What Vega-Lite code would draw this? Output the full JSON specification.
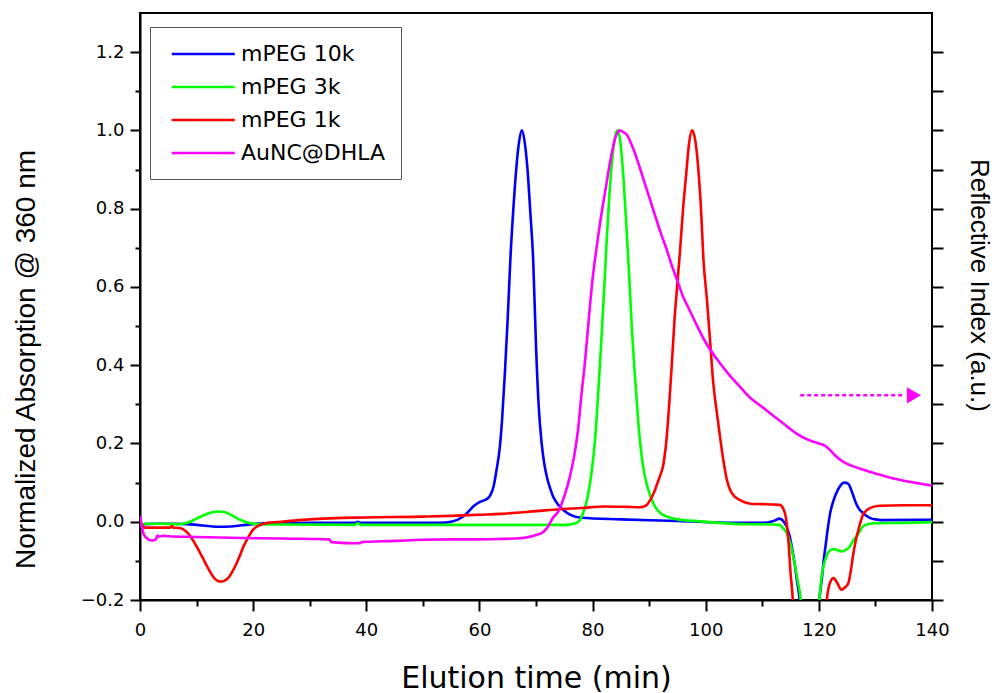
{
"$schema": "https://vega.github.io/schema/vega-lite/v6.json",
"width": 792, "height": 587,
"autosize": {"type": "none"},
"padding": {"left": 140, "top": 13, "right": 66, "bottom": 93},
"background": "white",
"config": {"view": {"stroke": "black", "strokeWidth": 2}, "axis": {"grid": false, "domainColor": "black", "tickColor": "black", "labelColor": "black", "titleColor": "black", "titleFontWeight": "normal"}},
"datasets": {
"curves": [
{"s":"mPEG 10k","t":0.3,"v":-0.012},{"s":"mPEG 10k","t":0.8,"v":-0.006},{"s":"mPEG 10k","t":3,"v":-0.005},{"s":"mPEG 10k","t":6,"v":-0.005},{"s":"mPEG 10k","t":8,"v":-0.006},{"s":"mPEG 10k","t":10,"v":-0.008},{"s":"mPEG 10k","t":12,"v":-0.011},{"s":"mPEG 10k","t":14,"v":-0.013},{"s":"mPEG 10k","t":16,"v":-0.012},{"s":"mPEG 10k","t":18,"v":-0.009},{"s":"mPEG 10k","t":20,"v":-0.006},{"s":"mPEG 10k","t":22,"v":-0.004},{"s":"mPEG 10k","t":30,"v":-0.003},{"s":"mPEG 10k","t":38,"v":-0.003},{"s":"mPEG 10k","t":38.5,"v":0.0},{"s":"mPEG 10k","t":39,"v":-0.003},{"s":"mPEG 10k","t":50,"v":-0.003},{"s":"mPEG 10k","t":53,"v":-0.003},{"s":"mPEG 10k","t":55,"v":0.0},{"s":"mPEG 10k","t":57,"v":0.012},{"s":"mPEG 10k","t":58,"v":0.025},{"s":"mPEG 10k","t":59,"v":0.04},{"s":"mPEG 10k","t":60,"v":0.05},{"s":"mPEG 10k","t":61,"v":0.056},{"s":"mPEG 10k","t":61.5,"v":0.06},{"s":"mPEG 10k","t":62,"v":0.07},{"s":"mPEG 10k","t":62.5,"v":0.09},{"s":"mPEG 10k","t":63,"v":0.13},{"s":"mPEG 10k","t":63.6,"v":0.19},{"s":"mPEG 10k","t":64,"v":0.26},{"s":"mPEG 10k","t":64.5,"v":0.38},{"s":"mPEG 10k","t":65,"v":0.52},{"s":"mPEG 10k","t":65.5,"v":0.68},{"s":"mPEG 10k","t":66,"v":0.8},{"s":"mPEG 10k","t":66.5,"v":0.9},{"s":"mPEG 10k","t":67,"v":0.97},{"s":"mPEG 10k","t":67.5,"v":1.0},{"s":"mPEG 10k","t":68,"v":0.97},{"s":"mPEG 10k","t":68.5,"v":0.9},{"s":"mPEG 10k","t":69,"v":0.79},{"s":"mPEG 10k","t":69.5,"v":0.67},{"s":"mPEG 10k","t":70,"v":0.45},{"s":"mPEG 10k","t":70.5,"v":0.29},{"s":"mPEG 10k","t":71,"v":0.2},{"s":"mPEG 10k","t":71.5,"v":0.145},{"s":"mPEG 10k","t":72,"v":0.11},{"s":"mPEG 10k","t":72.5,"v":0.085},{"s":"mPEG 10k","t":73,"v":0.065},{"s":"mPEG 10k","t":73.5,"v":0.052},{"s":"mPEG 10k","t":74,"v":0.042},{"s":"mPEG 10k","t":75,"v":0.028},{"s":"mPEG 10k","t":76,"v":0.018},{"s":"mPEG 10k","t":78,"v":0.01},{"s":"mPEG 10k","t":85,"v":0.006},{"s":"mPEG 10k","t":95,"v":0.002},{"s":"mPEG 10k","t":105,"v":-0.003},{"s":"mPEG 10k","t":110,"v":-0.003},{"s":"mPEG 10k","t":112,"v":0.002},{"s":"mPEG 10k","t":113.1,"v":0.008},{"s":"mPEG 10k","t":113.8,"v":0.0},{"s":"mPEG 10k","t":114.3,"v":-0.012},{"s":"mPEG 10k","t":114.8,"v":-0.035},{"s":"mPEG 10k","t":115.2,"v":-0.063},{"s":"mPEG 10k","t":115.7,"v":-0.105},{"s":"mPEG 10k","t":116.1,"v":-0.148},{"s":"mPEG 10k","t":116.6,"v":-0.2},{"s":"mPEG 10k","t":117.2,"v":-0.35},{"s":"mPEG 10k","t":118,"v":-0.5},{"s":"mPEG 10k","t":119.4,"v":-0.5},{"s":"mPEG 10k","t":120.1,"v":-0.2},{"s":"mPEG 10k","t":120.5,"v":-0.15},{"s":"mPEG 10k","t":120.8,"v":-0.106},{"s":"mPEG 10k","t":121.2,"v":-0.06},{"s":"mPEG 10k","t":121.6,"v":-0.015},{"s":"mPEG 10k","t":122,"v":0.022},{"s":"mPEG 10k","t":122.5,"v":0.05},{"s":"mPEG 10k","t":123,"v":0.07},{"s":"mPEG 10k","t":123.7,"v":0.09},{"s":"mPEG 10k","t":124.5,"v":0.1},{"s":"mPEG 10k","t":125.2,"v":0.097},{"s":"mPEG 10k","t":126,"v":0.07},{"s":"mPEG 10k","t":126.5,"v":0.05},{"s":"mPEG 10k","t":127,"v":0.035},{"s":"mPEG 10k","t":128,"v":0.02},{"s":"mPEG 10k","t":129,"v":0.01},{"s":"mPEG 10k","t":130,"v":0.006},{"s":"mPEG 10k","t":131,"v":0.004},{"s":"mPEG 10k","t":140,"v":0.005},
{"s":"mPEG 3k","t":0.3,"v":-0.015},{"s":"mPEG 3k","t":0.8,"v":-0.005},{"s":"mPEG 3k","t":3,"v":-0.005},{"s":"mPEG 3k","t":7,"v":-0.006},{"s":"mPEG 3k","t":8.5,"v":-0.002},{"s":"mPEG 3k","t":10,"v":0.008},{"s":"mPEG 3k","t":11.5,"v":0.018},{"s":"mPEG 3k","t":13,"v":0.025},{"s":"mPEG 3k","t":14,"v":0.026},{"s":"mPEG 3k","t":15,"v":0.024},{"s":"mPEG 3k","t":16,"v":0.018},{"s":"mPEG 3k","t":17,"v":0.01},{"s":"mPEG 3k","t":18,"v":0.003},{"s":"mPEG 3k","t":19,"v":-0.002},{"s":"mPEG 3k","t":20.5,"v":-0.006},{"s":"mPEG 3k","t":25,"v":-0.007},{"s":"mPEG 3k","t":38,"v":-0.008},{"s":"mPEG 3k","t":38.5,"v":-0.004},{"s":"mPEG 3k","t":39,"v":-0.008},{"s":"mPEG 3k","t":50,"v":-0.008},{"s":"mPEG 3k","t":60,"v":-0.008},{"s":"mPEG 3k","t":70,"v":-0.008},{"s":"mPEG 3k","t":75.4,"v":-0.008},{"s":"mPEG 3k","t":77,"v":-0.004},{"s":"mPEG 3k","t":77.8,"v":0.005},{"s":"mPEG 3k","t":78.5,"v":0.03},{"s":"mPEG 3k","t":79,"v":0.055},{"s":"mPEG 3k","t":79.5,"v":0.094},{"s":"mPEG 3k","t":80,"v":0.147},{"s":"mPEG 3k","t":80.5,"v":0.22},{"s":"mPEG 3k","t":81,"v":0.33},{"s":"mPEG 3k","t":81.5,"v":0.45},{"s":"mPEG 3k","t":82,"v":0.58},{"s":"mPEG 3k","t":82.5,"v":0.72},{"s":"mPEG 3k","t":83,"v":0.84},{"s":"mPEG 3k","t":83.5,"v":0.93},{"s":"mPEG 3k","t":84,"v":0.985},{"s":"mPEG 3k","t":84.4,"v":1.0},{"s":"mPEG 3k","t":85,"v":0.96},{"s":"mPEG 3k","t":85.5,"v":0.87},{"s":"mPEG 3k","t":86,"v":0.75},{"s":"mPEG 3k","t":86.5,"v":0.62},{"s":"mPEG 3k","t":87,"v":0.48},{"s":"mPEG 3k","t":87.5,"v":0.37},{"s":"mPEG 3k","t":88,"v":0.27},{"s":"mPEG 3k","t":88.5,"v":0.19},{"s":"mPEG 3k","t":89,"v":0.135},{"s":"mPEG 3k","t":89.5,"v":0.1},{"s":"mPEG 3k","t":90,"v":0.075},{"s":"mPEG 3k","t":90.5,"v":0.055},{"s":"mPEG 3k","t":91,"v":0.04},{"s":"mPEG 3k","t":92,"v":0.022},{"s":"mPEG 3k","t":93,"v":0.014},{"s":"mPEG 3k","t":95,"v":0.006},{"s":"mPEG 3k","t":99,"v":0.001},{"s":"mPEG 3k","t":106,"v":-0.006},{"s":"mPEG 3k","t":112,"v":-0.007},{"s":"mPEG 3k","t":113,"v":-0.008},{"s":"mPEG 3k","t":113.4,"v":-0.012},{"s":"mPEG 3k","t":114,"v":-0.022},{"s":"mPEG 3k","t":114.6,"v":-0.038},{"s":"mPEG 3k","t":115.2,"v":-0.07},{"s":"mPEG 3k","t":115.8,"v":-0.114},{"s":"mPEG 3k","t":116.3,"v":-0.155},{"s":"mPEG 3k","t":116.8,"v":-0.2},{"s":"mPEG 3k","t":117.4,"v":-0.35},{"s":"mPEG 3k","t":118.2,"v":-0.5},{"s":"mPEG 3k","t":119.4,"v":-0.5},{"s":"mPEG 3k","t":120.1,"v":-0.2},{"s":"mPEG 3k","t":120.4,"v":-0.15},{"s":"mPEG 3k","t":120.8,"v":-0.114},{"s":"mPEG 3k","t":121.3,"v":-0.09},{"s":"mPEG 3k","t":122,"v":-0.073},{"s":"mPEG 3k","t":122.6,"v":-0.07},{"s":"mPEG 3k","t":123.3,"v":-0.073},{"s":"mPEG 3k","t":124,"v":-0.076},{"s":"mPEG 3k","t":124.7,"v":-0.072},{"s":"mPEG 3k","t":125.5,"v":-0.063},{"s":"mPEG 3k","t":126,"v":-0.05},{"s":"mPEG 3k","t":126.5,"v":-0.04},{"s":"mPEG 3k","t":127,"v":-0.03},{"s":"mPEG 3k","t":127.8,"v":-0.012},{"s":"mPEG 3k","t":128.5,"v":-0.007},{"s":"mPEG 3k","t":130,"v":-0.004},{"s":"mPEG 3k","t":135,"v":-0.003},{"s":"mPEG 3k","t":140,"v":-0.001},
{"s":"mPEG 1k","t":0.2,"v":-0.003},{"s":"mPEG 1k","t":0.8,"v":-0.015},{"s":"mPEG 1k","t":3,"v":-0.015},{"s":"mPEG 1k","t":5.3,"v":-0.015},{"s":"mPEG 1k","t":5.6,"v":-0.011},{"s":"mPEG 1k","t":5.9,"v":-0.015},{"s":"mPEG 1k","t":7,"v":-0.016},{"s":"mPEG 1k","t":8.5,"v":-0.03},{"s":"mPEG 1k","t":10,"v":-0.063},{"s":"mPEG 1k","t":11,"v":-0.09},{"s":"mPEG 1k","t":12,"v":-0.118},{"s":"mPEG 1k","t":13,"v":-0.142},{"s":"mPEG 1k","t":14.3,"v":-0.153},{"s":"mPEG 1k","t":15.5,"v":-0.145},{"s":"mPEG 1k","t":16.5,"v":-0.123},{"s":"mPEG 1k","t":17.5,"v":-0.092},{"s":"mPEG 1k","t":18.3,"v":-0.063},{"s":"mPEG 1k","t":19.2,"v":-0.038},{"s":"mPEG 1k","t":20,"v":-0.02},{"s":"mPEG 1k","t":21,"v":-0.01},{"s":"mPEG 1k","t":22.5,"v":-0.003},{"s":"mPEG 1k","t":25,"v":0.0},{"s":"mPEG 1k","t":30,"v":0.006},{"s":"mPEG 1k","t":40,"v":0.011},{"s":"mPEG 1k","t":50,"v":0.013},{"s":"mPEG 1k","t":55,"v":0.015},{"s":"mPEG 1k","t":60,"v":0.018},{"s":"mPEG 1k","t":63.6,"v":0.02},{"s":"mPEG 1k","t":70,"v":0.027},{"s":"mPEG 1k","t":74.2,"v":0.032},{"s":"mPEG 1k","t":78,"v":0.035},{"s":"mPEG 1k","t":82,"v":0.039},{"s":"mPEG 1k","t":86,"v":0.038},{"s":"mPEG 1k","t":88.4,"v":0.037},{"s":"mPEG 1k","t":89.5,"v":0.042},{"s":"mPEG 1k","t":90.2,"v":0.056},{"s":"mPEG 1k","t":91,"v":0.08},{"s":"mPEG 1k","t":91.5,"v":0.1},{"s":"mPEG 1k","t":92,"v":0.12},{"s":"mPEG 1k","t":92.5,"v":0.145},{"s":"mPEG 1k","t":93,"v":0.2},{"s":"mPEG 1k","t":93.5,"v":0.29},{"s":"mPEG 1k","t":94,"v":0.4},{"s":"mPEG 1k","t":94.5,"v":0.52},{"s":"mPEG 1k","t":95,"v":0.61},{"s":"mPEG 1k","t":95.5,"v":0.7},{"s":"mPEG 1k","t":96,"v":0.8},{"s":"mPEG 1k","t":96.5,"v":0.88},{"s":"mPEG 1k","t":97,"v":0.96},{"s":"mPEG 1k","t":97.6,"v":1.0},{"s":"mPEG 1k","t":98.2,"v":0.97},{"s":"mPEG 1k","t":98.7,"v":0.9},{"s":"mPEG 1k","t":99.2,"v":0.79},{"s":"mPEG 1k","t":99.6,"v":0.67},{"s":"mPEG 1k","t":100.2,"v":0.57},{"s":"mPEG 1k","t":100.8,"v":0.457},{"s":"mPEG 1k","t":101.3,"v":0.36},{"s":"mPEG 1k","t":101.9,"v":0.286},{"s":"mPEG 1k","t":102.5,"v":0.22},{"s":"mPEG 1k","t":103.1,"v":0.159},{"s":"mPEG 1k","t":103.7,"v":0.11},{"s":"mPEG 1k","t":104.3,"v":0.082},{"s":"mPEG 1k","t":105,"v":0.066},{"s":"mPEG 1k","t":106,"v":0.056},{"s":"mPEG 1k","t":107,"v":0.049},{"s":"mPEG 1k","t":108,"v":0.046},{"s":"mPEG 1k","t":110,"v":0.045},{"s":"mPEG 1k","t":112,"v":0.044},{"s":"mPEG 1k","t":113.1,"v":0.043},{"s":"mPEG 1k","t":114,"v":0.022},{"s":"mPEG 1k","t":114.6,"v":-0.046},{"s":"mPEG 1k","t":115,"v":-0.131},{"s":"mPEG 1k","t":115.4,"v":-0.2},{"s":"mPEG 1k","t":116,"v":-0.4},{"s":"mPEG 1k","t":116.8,"v":-0.5},{"s":"mPEG 1k","t":120.6,"v":-0.5},{"s":"mPEG 1k","t":121.4,"v":-0.2},{"s":"mPEG 1k","t":122,"v":-0.155},{"s":"mPEG 1k","t":122.6,"v":-0.144},{"s":"mPEG 1k","t":123.3,"v":-0.158},{"s":"mPEG 1k","t":124,"v":-0.174},{"s":"mPEG 1k","t":124.6,"v":-0.168},{"s":"mPEG 1k","t":125.2,"v":-0.157},{"s":"mPEG 1k","t":125.6,"v":-0.13},{"s":"mPEG 1k","t":126,"v":-0.09},{"s":"mPEG 1k","t":126.5,"v":-0.05},{"s":"mPEG 1k","t":127,"v":-0.02},{"s":"mPEG 1k","t":127.8,"v":0.018},{"s":"mPEG 1k","t":128.5,"v":0.03},{"s":"mPEG 1k","t":129.6,"v":0.038},{"s":"mPEG 1k","t":130.8,"v":0.041},{"s":"mPEG 1k","t":135,"v":0.042},{"s":"mPEG 1k","t":140,"v":0.042},
{"s":"AuNC@DHLA","t":0.0,"v":0.015},{"s":"AuNC@DHLA","t":0.3,"v":-0.01},{"s":"AuNC@DHLA","t":0.6,"v":-0.03},{"s":"AuNC@DHLA","t":1.2,"v":-0.042},{"s":"AuNC@DHLA","t":2,"v":-0.048},{"s":"AuNC@DHLA","t":2.8,"v":-0.045},{"s":"AuNC@DHLA","t":3.1,"v":-0.035},{"s":"AuNC@DHLA","t":3.4,"v":-0.038},{"s":"AuNC@DHLA","t":4,"v":-0.036},{"s":"AuNC@DHLA","t":5,"v":-0.037},{"s":"AuNC@DHLA","t":10,"v":-0.039},{"s":"AuNC@DHLA","t":16,"v":-0.041},{"s":"AuNC@DHLA","t":25,"v":-0.043},{"s":"AuNC@DHLA","t":33.5,"v":-0.045},{"s":"AuNC@DHLA","t":33.8,"v":-0.052},{"s":"AuNC@DHLA","t":38.8,"v":-0.055},{"s":"AuNC@DHLA","t":39.2,"v":-0.052},{"s":"AuNC@DHLA","t":45,"v":-0.049},{"s":"AuNC@DHLA","t":50,"v":-0.046},{"s":"AuNC@DHLA","t":55,"v":-0.045},{"s":"AuNC@DHLA","t":60,"v":-0.045},{"s":"AuNC@DHLA","t":63.6,"v":-0.044},{"s":"AuNC@DHLA","t":66,"v":-0.043},{"s":"AuNC@DHLA","t":68,"v":-0.041},{"s":"AuNC@DHLA","t":70,"v":-0.034},{"s":"AuNC@DHLA","t":71.3,"v":-0.026},{"s":"AuNC@DHLA","t":72,"v":-0.015},{"s":"AuNC@DHLA","t":73,"v":0.01},{"s":"AuNC@DHLA","t":74,"v":0.028},{"s":"AuNC@DHLA","t":75,"v":0.065},{"s":"AuNC@DHLA","t":76,"v":0.116},{"s":"AuNC@DHLA","t":77,"v":0.19},{"s":"AuNC@DHLA","t":77.5,"v":0.244},{"s":"AuNC@DHLA","t":78,"v":0.32},{"s":"AuNC@DHLA","t":78.7,"v":0.414},{"s":"AuNC@DHLA","t":79.4,"v":0.53},{"s":"AuNC@DHLA","t":80,"v":0.62},{"s":"AuNC@DHLA","t":80.7,"v":0.7},{"s":"AuNC@DHLA","t":81.5,"v":0.78},{"s":"AuNC@DHLA","t":82.3,"v":0.85},{"s":"AuNC@DHLA","t":83.1,"v":0.92},{"s":"AuNC@DHLA","t":84,"v":0.98},{"s":"AuNC@DHLA","t":84.8,"v":1.0},{"s":"AuNC@DHLA","t":85.5,"v":0.995},{"s":"AuNC@DHLA","t":86,"v":0.99},{"s":"AuNC@DHLA","t":87,"v":0.96},{"s":"AuNC@DHLA","t":88,"v":0.92},{"s":"AuNC@DHLA","t":89,"v":0.875},{"s":"AuNC@DHLA","t":90,"v":0.83},{"s":"AuNC@DHLA","t":91,"v":0.785},{"s":"AuNC@DHLA","t":92,"v":0.74},{"s":"AuNC@DHLA","t":93,"v":0.7},{"s":"AuNC@DHLA","t":94,"v":0.655},{"s":"AuNC@DHLA","t":95,"v":0.615},{"s":"AuNC@DHLA","t":96,"v":0.575},{"s":"AuNC@DHLA","t":97,"v":0.545},{"s":"AuNC@DHLA","t":98,"v":0.515},{"s":"AuNC@DHLA","t":99,"v":0.485},{"s":"AuNC@DHLA","t":100,"v":0.458},{"s":"AuNC@DHLA","t":102,"v":0.415},{"s":"AuNC@DHLA","t":104,"v":0.378},{"s":"AuNC@DHLA","t":106,"v":0.346},{"s":"AuNC@DHLA","t":108,"v":0.315},{"s":"AuNC@DHLA","t":110,"v":0.293},{"s":"AuNC@DHLA","t":112,"v":0.27},{"s":"AuNC@DHLA","t":114,"v":0.248},{"s":"AuNC@DHLA","t":116,"v":0.226},{"s":"AuNC@DHLA","t":118,"v":0.21},{"s":"AuNC@DHLA","t":120,"v":0.2},{"s":"AuNC@DHLA","t":121,"v":0.195},{"s":"AuNC@DHLA","t":122,"v":0.183},{"s":"AuNC@DHLA","t":123,"v":0.168},{"s":"AuNC@DHLA","t":124,"v":0.156},{"s":"AuNC@DHLA","t":125,"v":0.148},{"s":"AuNC@DHLA","t":126,"v":0.142},{"s":"AuNC@DHLA","t":128,"v":0.132},{"s":"AuNC@DHLA","t":130,"v":0.123},{"s":"AuNC@DHLA","t":132,"v":0.115},{"s":"AuNC@DHLA","t":134,"v":0.108},{"s":"AuNC@DHLA","t":136,"v":0.102},{"s":"AuNC@DHLA","t":138,"v":0.097},{"s":"AuNC@DHLA","t":140,"v":0.092}
],
"arrow": [{"t":116.7,"v":0.323},{"t":135.3,"v":0.323}],
"head": [{"t":136.8,"v":0.323}]
},
"resolve": {"axis": {"x": "independent", "y": "independent"}},
"layer": [
{
"data": {"name": "curves"},
"mark": {"type": "line", "clip": true, "strokeWidth": 2.6, "interpolate": "monotone"},
"encoding": {
"x": {"field": "t", "type": "quantitative", "scale": {"domain": [0, 140], "nice": false, "zero": false},
"axis": {"orient": "bottom", "values": [0, 20, 40, 60, 80, 100, 120, 140], "tickSize": 11, "tickWidth": 2, "domainWidth": 2, "labelFont": "DejaVu Sans", "labelFontSize": 18, "labelPadding": 10, "labelFlush": false, "labelOverlap": false, "title": "Elution time (min)", "titleFont": "DejaVu Sans", "titleFontSize": 30, "titleX": 396, "titleY": 87, "titleAlign": "center", "titleBaseline": "alphabetic"}},
"y": {"field": "v", "type": "quantitative", "scale": {"domain": [-0.2, 1.3], "nice": false, "zero": false},
"axis": {"orient": "left", "values": [-0.2, 0, 0.2, 0.4, 0.6, 0.8, 1.0, 1.2], "format": ".1f", "tickSize": 10, "tickWidth": 2, "domainWidth": 2, "labelFont": "DejaVu Sans", "labelFontSize": 18, "labelPadding": 6, "labelOverlap": false, "title": "Normalized Absorption @ 360 nm", "titleFont": "Liberation Sans", "titleFontSize": 28, "titleAngle": 270, "titleX": -114, "titleY": 346, "titleAlign": "center", "titleBaseline": "middle"}},
"color": {"field": "s", "type": "nominal", "scale": {"domain": ["mPEG 10k", "mPEG 3k", "mPEG 1k", "AuNC@DHLA"], "range": ["#0000FF", "#00FF00", "#FF0000", "#FF00FF"]},
"legend": {"orient": "none", "legendX": 10, "legendY": 14, "title": null, "labelFont": "DejaVu Sans", "labelFontSize": 22, "labelColor": "black", "symbolType": "M-0.5,0H5.5", "symbolSize": 441, "symbolStrokeWidth": 2.5, "labelOffset": 52, "rowPadding": 10, "padding": 15, "strokeColor": "#555555", "fillColor": "white"}}
}
},
{
"data": {"name": "arrow"},
"mark": {"type": "line", "color": "#FF00FF", "strokeWidth": 2.5, "strokeDash": [4, 3]},
"encoding": {
"x": {"field": "t", "type": "quantitative", "scale": {"domain": [0, 140], "nice": false, "zero": false},
"axis": {"orient": "bottom", "values": [10, 30, 50, 70, 90, 110, 130], "tickSize": 6, "tickWidth": 2, "labels": false, "domain": false, "title": null}},
"y": {"field": "v", "type": "quantitative", "scale": {"domain": [-0.2, 1.3], "nice": false, "zero": false},
"axis": {"orient": "left", "values": [-0.1, 0.1, 0.3, 0.5, 0.7, 0.9, 1.1], "tickSize": 5, "tickWidth": 2, "labels": false, "domain": false, "title": null}}
}
},
{
"data": {"name": "head"},
"mark": {"type": "point", "shape": "triangle-right", "filled": true, "color": "#FF00FF", "size": 260, "opacity": 1},
"encoding": {
"x": {"field": "t", "type": "quantitative", "scale": {"domain": [0, 140], "nice": false, "zero": false}, "axis": null},
"y": {"field": "v", "type": "quantitative", "scale": {"domain": [-0.2, 1.3], "nice": false, "zero": false},
"axis": {"orient": "right", "values": [-0.2, -0.1, 0, 0.1, 0.2, 0.3, 0.4, 0.5, 0.6, 0.7, 0.8, 0.9, 1.0, 1.1, 1.2], "tickSize": 11, "tickWidth": 2, "labels": false, "domain": false, "title": "Reflective Index (a.u.)", "titleFont": "Liberation Sans", "titleFontSize": 26, "titleAngle": 90, "titleX": 46, "titleY": 272, "titleAlign": "center", "titleBaseline": "middle"}}
}
}
]
}
